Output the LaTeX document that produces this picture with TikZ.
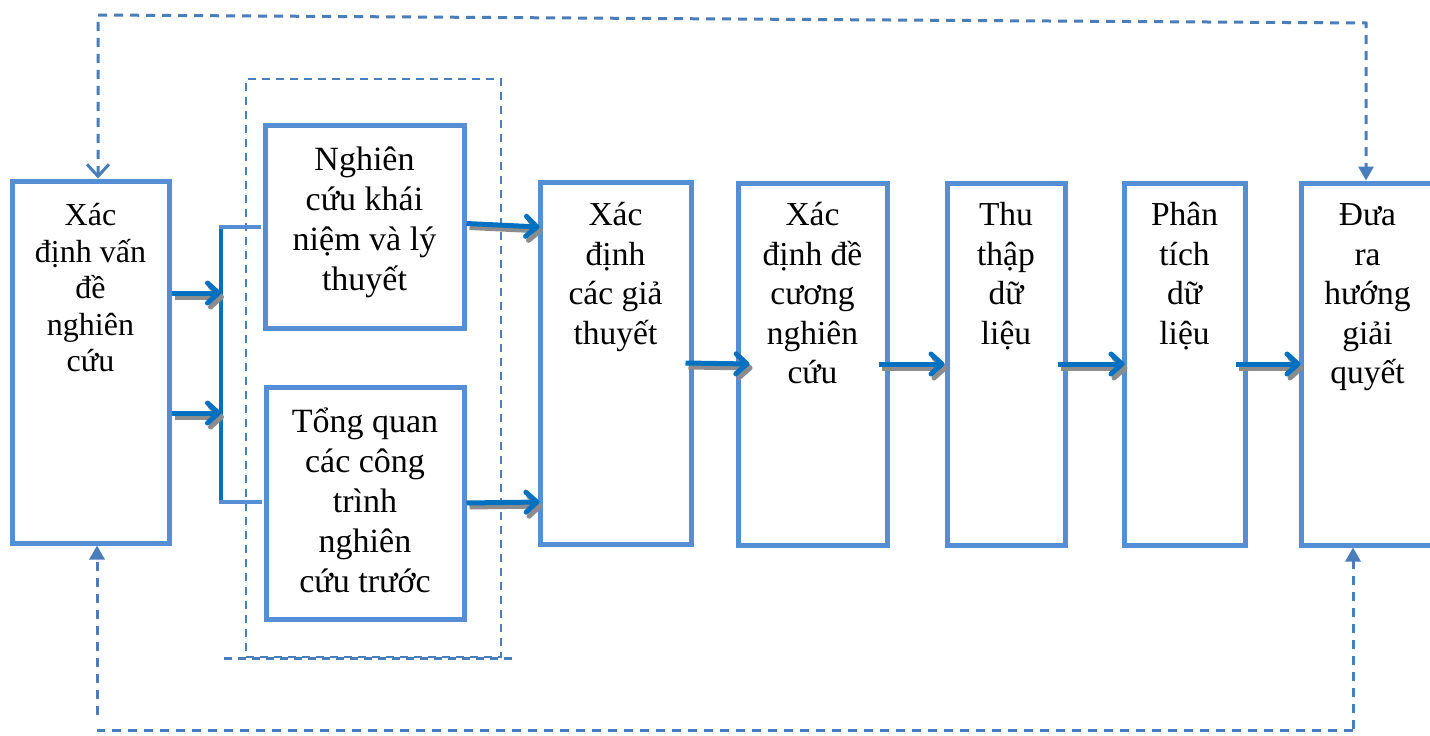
\documentclass[tikz,border=0pt]{standalone}
\usepackage{fontspec}
\setmainfont{Liberation Serif}
\usetikzlibrary{arrows.meta,calc}
\definecolor{boxblue}{RGB}{85,142,213}
\definecolor{dashblue}{RGB}{74,126,187}
\definecolor{flowblue}{RGB}{0,112,192}
\definecolor{shadowgray}{RGB}{140,140,140}
\newcommand\tstrut{\rule{0pt}{36pt}}
\newcommand\flowline[2]{\draw[flowshadow] #1 -- #2; \draw[flow] #1 -- #2;}
\begin{document}
\begin{tikzpicture}[x=1pt,y=-1pt,
  box/.style={draw=boxblue, line width=5pt, rectangle, inner sep=0pt},
  grp/.style={draw=dashblue, line width=2.5pt, dash pattern=on 8pt off 6pt, rectangle, inner sep=0pt},
  grpline/.style={draw=dashblue, line width=2.5pt, dash pattern=on 8pt off 6pt},
  txt/.style={anchor=north, inner sep=0pt, align=center, font=\fontsize{33.5}{39.5}\selectfont},
  txtb/.style={txt, font=\fontsize{34}{40}\selectfont},
  txts/.style={txt, font=\fontsize{32}{36.5}\selectfont},
  flow/.style={draw=flowblue, line width=5pt, -{Straight Barb[length=11pt,width=20pt,round]}},
  flowshadow/.style={draw=shadowgray, line width=5pt, -{Straight Barb[length=11pt,width=20pt,round]}, transform canvas={xshift=3pt,yshift=-4pt}},
  stub/.style={draw=boxblue, line width=4pt},
  trunk/.style={draw=flowblue, line width=4pt},
  fb/.style={draw=dashblue, line width=3pt, dash pattern=on 9pt off 7pt},
  openv/.tip={Straight Barb[length=12pt,width=22pt]},
  solidtri/.tip={Triangle[length=14pt,width=15pt]}
]
\clip (0,0) rectangle (1430,736);
\fill[white] (0,0) rectangle (1430,736);

% group frame
\node[grp, minimum width=255pt, minimum height=578pt] (g) at (373.5,368) {};
\draw[grpline] ([xshift=-21pt]g.south west) -- ([xshift=14pt]g.south east);

% boxes
\node[box, minimum width=157pt, minimum height=362pt] (b1) at (90.5,362) {};
\node[box, minimum width=199pt, minimum height=203pt] (b2) at (364.5,226.5) {};
\node[box, minimum width=198pt, minimum height=232pt] (b3) at (365,503) {};
\node[box, minimum width=151pt, minimum height=362pt] (b5) at (615.5,363) {};
\node[box, minimum width=149pt, minimum height=362pt] (b6) at (812.5,364) {};
\node[box, minimum width=118pt, minimum height=362pt] (b7) at (1006,364) {};
\node[box, minimum width=121pt, minimum height=362pt] (b8) at (1184.5,364) {};
\node[box, minimum width=139pt, minimum height=362pt] (b9) at (1370.5,364) {};

% texts
\node[txts] (t1) at ([yshift=-11pt]b1.north) {\tstrut Xác\\định vấn\\đề\\nghiên\\cứu};
\node[txtb] (t2) at ([yshift=-12pt]b2.north) {\tstrut Nghiên\\cứu khái\\niệm và lý\\thuyết};
\node[txtb] (t3) at ([yshift=-12pt]b3.north) {\tstrut Tổng quan\\các công\\trình\\nghiên\\cứu trước};
\node[txt] (t5) at ([yshift=-10pt]b5.north) {\tstrut Xác\\định\\các giả\\thuyết};
\node[txt] (t6) at ([yshift=-9pt]b6.north) {\tstrut Xác\\định đề\\cương\\nghiên\\cứu};
\node[txt] (t7) at ([yshift=-9pt]b7.north) {\tstrut Thu\\thập\\dữ\\liệu};
\node[txt] (t8) at ([yshift=-9pt]b8.north) {\tstrut Phân\\tích\\dữ\\liệu};
\node[txt] (t9) at ([xshift=-3pt,yshift=-9pt]b9.north) {\tstrut Đưa\\ra\\hướng\\giải\\quyết};

% junction
\coordinate (j1) at (221,227);
\coordinate (j2) at (221,502);
\draw[trunk] (j1) -- (j2);
\draw[stub] ([xshift=-2pt]j1) -- ([xshift=-2pt]j1 -| b2.west);
\draw[stub] ([xshift=-2pt]j2) -- ([xshift=-2pt]j2 -| b3.west);

% flow arrows
\flowline{([yshift=69pt]b1.east)}{([yshift=69pt]b1.east -| j1)}
\flowline{([yshift=-51pt]b1.east)}{([yshift=-51pt]b1.east -| j1)}
\flowline{([yshift=3pt]b2.east)}{([xshift=2pt,yshift=136pt]b5.west)}
\flowline{(b3.east)}{([xshift=2pt,yshift=-139pt]b5.west)}
\flowline{([xshift=-8pt]b5.east)}{([xshift=14pt]b6.west)}
\flowline{([xshift=-11pt]b6.east)}{(b7.west)}
\flowline{([xshift=-10pt]b7.east)}{([xshift=3pt]b8.west)}
\flowline{([xshift=-12pt]b8.east)}{([xshift=2pt]b9.west)}

% feedback loops
\coordinate (tl) at (98,15);
\coordinate (tr) at (1366,23);
\draw[fb, {openv}-{solidtri}] ([xshift=7.5pt]b1.north) -- (tl) -- (tr) -- (tr |- b9.north);
\coordinate (bl) at (97,730);
\coordinate (br) at (1353,730);
\coordinate (bre) at (1353,745);
\draw[fb] (br) -- (bl);
\draw[fb, -{solidtri}] ([yshift=15pt]bl) -- ([xshift=6.5pt]b1.south);
\draw[fb, -{solidtri}] (bre) -- (bre |- b9.south);
\end{tikzpicture}
\end{document}
